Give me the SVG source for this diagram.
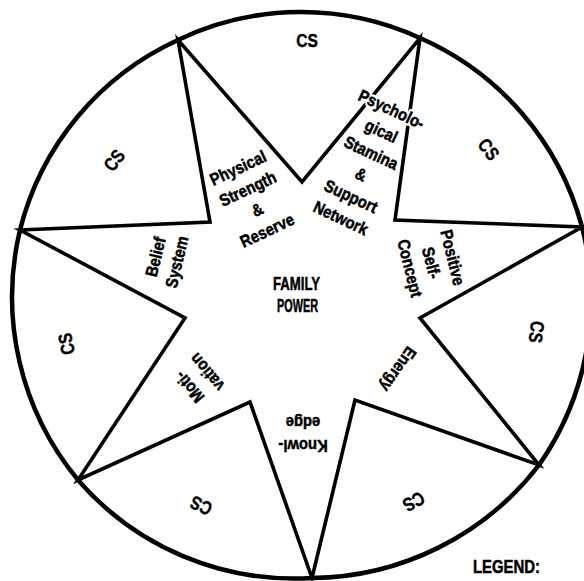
<svg xmlns="http://www.w3.org/2000/svg" width="584" height="581" viewBox="0 0 584 581">
<style>
.bg{fill:#fff}
.ring{fill:none;stroke:#000;stroke-width:4.5}
.edge{fill:none;stroke:#000;stroke-width:3.6;stroke-linejoin:miter;stroke-miterlimit:10}
.lbl{font-family:"Liberation Sans",Arial,sans-serif;font-weight:bold;font-size:17px;text-anchor:middle;fill:#000;stroke:#000;stroke-width:0.5}
.halo{fill:#fff;stroke:#fff;stroke-width:5;stroke-linejoin:round}
.cs{font-family:"Liberation Sans",Arial,sans-serif;font-weight:bold;font-size:19px;text-anchor:middle;fill:#000;stroke:#000;stroke-width:0.4}
.title{font-family:"Liberation Sans",Arial,sans-serif;font-weight:bold;font-size:18px;fill:#000;stroke:#000;stroke-width:0.5}
</style>
<rect class="bg" x="0" y="0" width="584" height="581"/>
<g id="connectors">
<path id="outer-circle" class="ring" d="M178,40 A285,285 0 0 1 420,38 A287,287 0 0 1 582,227 A290,290 0 0 1 539,465 A290,290 0 0 1 312,578 A286,286 0 0 1 78,480 A287,287 0 0 1 20,230 A285,285 0 0 1 178,40 Z"/>
<polygon id="star" class="edge" points="178,40 302,182 420,38 395,220 582,227 420,318 539,465 355,400 312,578 250,402 78,480 185,318 20,230 210,222"/>
</g>
<g id="center">
<text class="title" x="273" y="290" textLength="47" lengthAdjust="spacingAndGlyphs">FAMILY</text>
<text class="title" x="277" y="312" textLength="41" lengthAdjust="spacingAndGlyphs">POWER</text>
</g>
<g id="physical" transform="translate(252.75,199.5) rotate(-25)">
<text class="lbl" transform="scale(0.87,1)"><tspan x="0" y="-29">Physical</tspan><tspan x="0" y="-6">Strength</tspan><tspan x="0" y="17">&amp;</tspan><tspan x="0" y="40">Reserve</tspan></text>
</g>
<g id="psychological" transform="translate(366,164) rotate(25)">
<text class="lbl halo" transform="scale(0.87,1)"><tspan x="0" y="-54.5">Psycholo-</tspan><tspan x="0" y="-30.5">gical</tspan><tspan x="0" y="-6.5">Stamina</tspan><tspan x="0" y="17.5">&amp;</tspan><tspan x="0" y="41.5">Support</tspan><tspan x="0" y="65.5">Network</tspan></text>
<text class="lbl" transform="scale(0.87,1)"><tspan x="0" y="-54.5">Psycholo-</tspan><tspan x="0" y="-30.5">gical</tspan><tspan x="0" y="-6.5">Stamina</tspan><tspan x="0" y="17.5">&amp;</tspan><tspan x="0" y="41.5">Support</tspan><tspan x="0" y="65.5">Network</tspan></text>
</g>
<g id="positive" transform="translate(431,263) rotate(76)">
<text class="lbl" transform="scale(0.87,1)"><tspan x="0" y="-16.5">Positive</tspan><tspan x="0" y="5.5">Self-</tspan><tspan x="0" y="27.5">Concept</tspan></text>
</g>
<g id="energy" transform="translate(398,369) rotate(125)">
<text class="lbl" transform="scale(0.87,1)"><tspan x="0" y="5.5">Energy</tspan></text>
</g>
<g id="knowledge" transform="translate(303,434) rotate(180)">
<text class="lbl" transform="scale(0.87,1)"><tspan x="0" y="-6.5">Knowl-</tspan><tspan x="0" y="17.5">edge</tspan></text>
</g>
<g id="motivation" transform="translate(198.5,379.5) rotate(-130)">
<text class="lbl" transform="scale(0.87,1)"><tspan x="0" y="-6">Moti-</tspan><tspan x="0" y="17">vation</tspan></text>
</g>
<g id="belief" transform="translate(166.5,259.5) rotate(-76.5)">
<text class="lbl" transform="scale(0.87,1)"><tspan x="0" y="-5.5">Belief</tspan><tspan x="0" y="16.5">System</tspan></text>
</g>
<g id="cs-top" transform="translate(307,40)"><text class="cs" y="7" transform="scale(0.82,1)">CS</text></g>
<g id="cs-top-right" transform="translate(489,149) rotate(52)"><text class="cs" y="7" transform="scale(0.82,1)">CS</text></g>
<g id="cs-right" transform="translate(537,332) rotate(98)"><text class="cs" y="7" transform="scale(0.82,1)">CS</text></g>
<g id="cs-bottom-right" transform="translate(414,502) rotate(151)"><text class="cs" y="7" transform="scale(0.82,1)">CS</text></g>
<g id="cs-bottom-left" transform="translate(201,506) rotate(205)"><text class="cs" y="7" transform="scale(0.82,1)">CS</text></g>
<g id="cs-left" transform="translate(66,344) rotate(-101)"><text class="cs" y="7" transform="scale(0.82,1)">CS</text></g>
<g id="cs-top-left" transform="translate(114,160) rotate(-53)"><text class="cs" y="7" transform="scale(0.82,1)">CS</text></g>
<g id="legend">
<text class="title" x="473" y="573" font-size="19" textLength="67" lengthAdjust="spacingAndGlyphs">LEGEND:</text>
</g>
</svg>
